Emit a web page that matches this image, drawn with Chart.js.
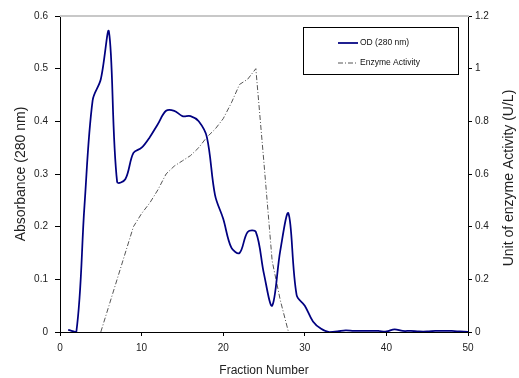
<!DOCTYPE html>
<html>
<head>
<meta charset="utf-8">
<script src="https://cdn.jsdelivr.net/npm/chart.js@4.4.0/dist/chart.umd.min.js"></script>
<style>
  body { margin: 0; background: #fff; }
  #wrap { width: 519px; height: 378px; }
</style>
</head>
<body>
<div id="wrap"><canvas id="grafico" width="519" height="378"></canvas></div>
<script>
// dados
const fracOD = [1, 2, 3, 4, 5, 6, 7, 8, 9, 10, 11, 12, 13, 14, 15, 16, 17, 18, 19, 20,
  21, 22, 23, 24, 25, 26, 27, 28, 29, 30, 31, 32, 33, 34, 35, 36, 37, 38, 39, 40,
  41, 42, 43, 44, 45, 46, 47, 48, 49, 50];
const odValues = [0.004, 0, 0.24, 0.44, 0.48, 0.57, 0.285, 0.29, 0.34, 0.35,
  0.37, 0.395, 0.42, 0.42, 0.41, 0.41, 0.40, 0.37, 0.26, 0.215,
  0.16, 0.15, 0.19, 0.19, 0.11, 0.05, 0.155, 0.225, 0.07, 0.05,
  0.02, 0.006, 0, 0.001, 0.003, 0.002, 0.002, 0.002, 0.002, 0.001,
  0.005, 0.002, 0.002, 0.001, 0.001, 0.002, 0.002, 0.002, 0.001, 0];
const fracEnzyme = [5, 6, 7, 8, 9, 10, 11, 12, 13, 14, 15, 16, 17, 18, 19, 20,
  21, 22, 23, 24, 25, 26, 27, 28];
const enzymeValues = [0, 0.1, 0.2, 0.3, 0.4, 0.45, 0.49, 0.54, 0.6, 0.63, 0.65, 0.67,
  0.7, 0.74, 0.77, 0.81, 0.87, 0.94, 0.96, 1.0, 0.64, 0.27, 0.12, 0];
const xTicks = [0, 10, 20, 30, 40, 50];
const leftTicks = [0, 0.1, 0.2, 0.3, 0.4, 0.5, 0.6];
const rightTicks = [0, 0.2, 0.4, 0.6, 0.8, 1, 1.2];

const rightTitle = "Unit of enzyme Activity (U/L)";
const fonte = '"Liberation Sans", Arial, sans-serif';

function pontos(xs, ys) {
  return xs.map((x, i) => ({ x: x, y: ys[i] }));
}

// legenda, borda superior e titulo da direita
const extras = {
  id: "extras",
  beforeDatasetsDraw(chart) {
    const { ctx, chartArea: a } = chart;
    ctx.save();
    ctx.strokeStyle = "#c8c8c8";
    ctx.lineWidth = 2;
    ctx.beginPath();
    ctx.moveTo(a.left, a.top);
    ctx.lineTo(a.right + 1, a.top);
    ctx.stroke();
    ctx.restore();
  },
  afterDraw(chart) {
    const { ctx } = chart;
    ctx.save();
    ctx.translate(509, 178);
    ctx.rotate(-Math.PI / 2);
    ctx.font = "14px " + fonte;
    ctx.fillStyle = "#222";
    ctx.textAlign = "center";
    ctx.textBaseline = "middle";
    ctx.fillText(rightTitle, 0, 0);
    ctx.restore();

    ctx.save();
    ctx.fillStyle = "#fff";
    ctx.fillRect(303.5, 27.5, 155, 47);
    ctx.strokeStyle = "#000";
    ctx.lineWidth = 1;
    ctx.strokeRect(303.5, 27.5, 155, 47);
    ctx.font = "8.5px " + fonte;
    ctx.textBaseline = "middle";
    chart.data.datasets.forEach((ds, i) => {
      const y = 43 + i * 20;
      ctx.strokeStyle = ds.borderColor;
      ctx.lineWidth = ds.borderWidth;
      ctx.setLineDash(ds.borderDash || []);
      ctx.beginPath();
      ctx.moveTo(338, y);
      ctx.lineTo(358, y);
      ctx.stroke();
      ctx.setLineDash([]);
      ctx.fillStyle = "#111";
      ctx.fillText(ds.label, 360, y);
    });
    ctx.restore();
  },
};

const tickFont = { family: fonte, size: 10 };

new Chart(document.getElementById("grafico"), {
  type: "line",
  data: {
    datasets: [
      {
        label: "OD (280 nm)",
        data: pontos(fracOD, odValues),
        borderColor: "#000080",
        borderWidth: 1.75,
        pointRadius: 0,
        tension: 0.35,
        yAxisID: "y",
      },
      {
        label: "Enzyme Activity",
        data: pontos(fracEnzyme, enzymeValues),
        borderColor: "#555",
        borderWidth: 1,
        borderDash: [5, 2, 1, 2],
        pointRadius: 0,
        tension: 0,
        yAxisID: "y1",
      },
    ],
  },
  options: {
    responsive: false,
    animation: false,
    layout: { padding: { top: 16, left: 0, right: 0, bottom: 0 } },
    plugins: { legend: { display: false }, tooltip: { enabled: false } },
    scales: {
      x: {
        type: "linear",
        min: 0,
        max: 50,
        afterBuildTicks: (s) => { s.ticks = xTicks.map((v) => ({ value: v })); },
        afterFit: (s) => { s.height = 46; },
        grid: { drawOnChartArea: false, color: "#000", tickLength: 4 },
        border: { color: "#000", width: 1 },
        ticks: { font: tickFont, color: "#222", padding: 6, maxRotation: 0 },
        title: {
          display: true,
          text: "Fraction Number",
          font: { family: fonte, size: 12, lineHeight: 1 },
          color: "#222",
          padding: { top: 0, bottom: 1 },
        },
      },
      y: {
        position: "left",
        min: 0,
        max: 0.6,
        afterBuildTicks: (s) => { s.ticks = leftTicks.map((v) => ({ value: v })); },
        afterFit: (s) => { s.width = 60; },
        grid: { drawOnChartArea: false, color: "#000", tickLength: 5 },
        border: { color: "#000", width: 1 },
        ticks: { font: tickFont, color: "#222", padding: 7, callback: (v) => String(v) },
        title: {
          display: true,
          text: "Absorbance (280 nm)",
          font: { family: fonte, size: 14 },
          color: "#222",
          padding: { top: 13, bottom: 0 },
        },
      },
      y1: {
        position: "right",
        min: 0,
        max: 1.2,
        afterBuildTicks: (s) => { s.ticks = rightTicks.map((v) => ({ value: v })); },
        afterFit: (s) => { s.width = 51; },
        grid: { drawOnChartArea: false, color: "#000", tickLength: 4 },
        border: { color: "#000", width: 1 },
        ticks: { font: tickFont, color: "#222", padding: 3, callback: (v) => String(v) },
      },
    },
  },
  plugins: [extras],
});
</script>
</body>
</html>
